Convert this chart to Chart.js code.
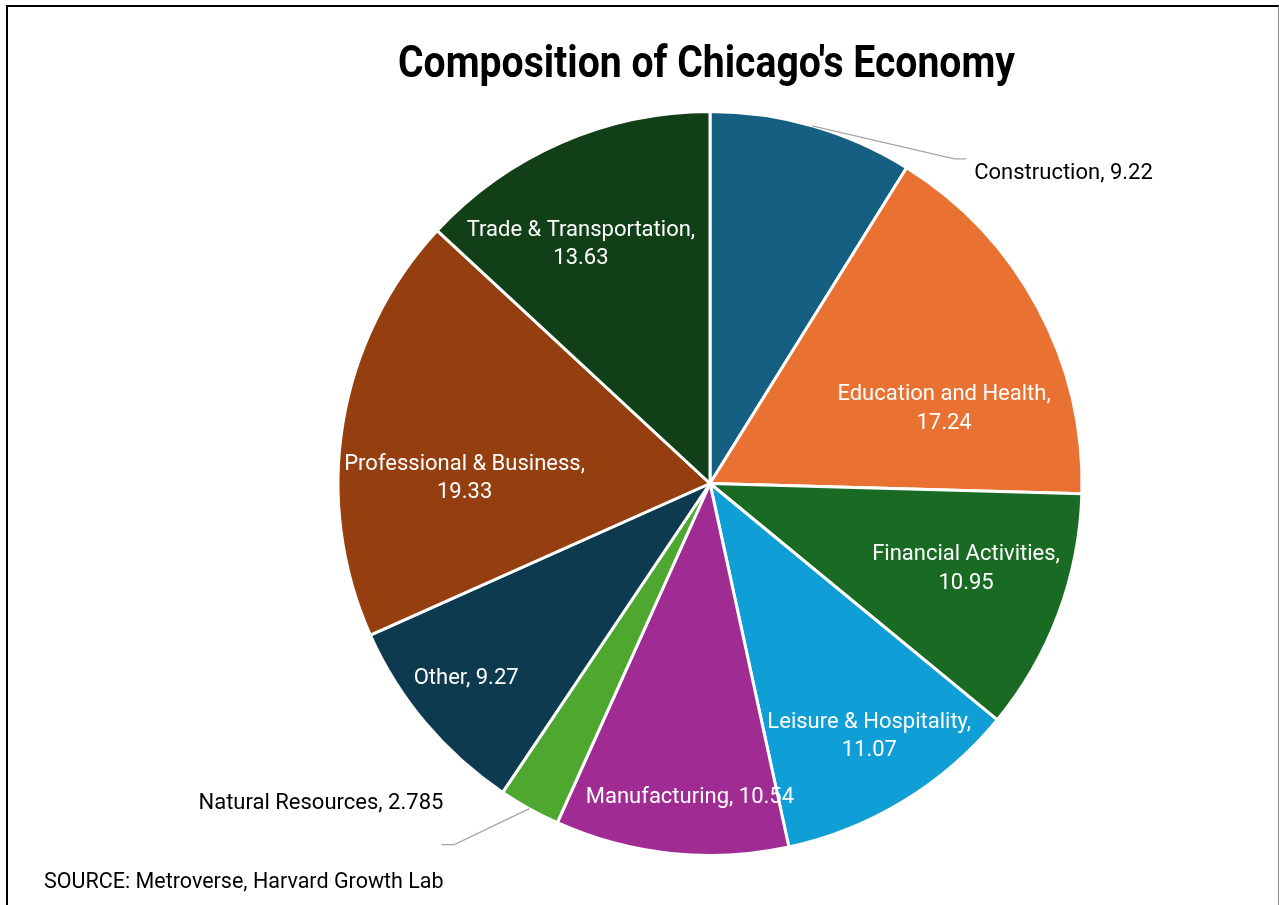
<!DOCTYPE html>
<html>
<head>
<meta charset="utf-8">
<title>Composition of Chicago's Economy</title>
<script src="https://cdn.jsdelivr.net/npm/chart.js@4.4.1/dist/chart.umd.min.js"></script>
<style>
    html, body { margin: 0; padding: 0; background: #ffffff; overflow: hidden; }
    #wrap { position: relative; width: 1279px; height: 905px; }
    #frame {
        position: absolute; left: 6px; top: 5px; width: 1270px; height: 920px;
        border-left: 2px solid #000; border-top: 2px solid #000; border-right: 1px solid #8a8a8a;
        pointer-events: none;
    }
    canvas { position: absolute; left: 0; top: 0; }
</style>
</head>
<body>
<div id="wrap">
    <canvas id="pieChart" width="1279" height="905"></canvas>
    <div id="frame"></div>
</div>
<script>
const sectors = [
    'Construction', 'Education and Health', 'Financial Activities', 'Leisure & Hospitality',
    'Manufacturing', 'Natural Resources', 'Other', 'Professional & Business', 'Trade & Transportation'
];
const shares = [9.22, 17.24, 10.95, 11.07, 10.54, 2.785, 9.27, 19.33, 13.63];
const sliceColors = [
    '#156082', '#E97132', '#196B24', '#0F9ED5', '#A02B93', '#4EA72E', '#0E3A50', '#953F10', '#113F17'
];

const chartTitle = "Composition of Chicago's Economy";
const sourceNote = 'SOURCE: Metroverse, Harvard Growth Lab';

// how each data label sits: inside labels use a radius fraction and angle nudge (deg),
// outside labels use a leader line from the arc edge
const labelLayout = [
    { outside: true, elbow: [142, 33], end: [154, 33], side: 'left', text: [162, 48] },
    { frac: 0.663, dAng: 9.9, lines: ['Education and Health,', '17.24'] },
    { frac: 0.723, dAng: -2.7, lines: ['Financial Activities,', '10.95'] },
    { frac: 0.797, dAng: -1.1, lines: ['Leisure & Hospitality,', '11.07'] },
    { frac: 0.838, dAng: -2.3, lines: ['Manufacturing, 10.54'] },
    { outside: true, elbow: [-75, 36], end: [-88, 36], side: 'right', text: [-86, -5] },
    { frac: 0.834, dAng: 1.9, lines: ['Other, 9.27'] },
    { frac: 0.66, dAng: -7.5, lines: ['Professional & Business,', '19.33'] },
    { frac: 0.737, dAng: -4.5, lines: ['Trade & Transportation,', '13.63'] }
];

const labelFont = '22px Roboto, "Noto Sans", sans-serif';

const pieLabels = {
    id: 'pieLabels',
    afterDatasetsDraw(chart) {
        const ctx = chart.ctx;
        const arcs = chart.getDatasetMeta(0).data;
        ctx.save();
        ctx.font = labelFont;
        arcs.forEach((arc, i) => {
            const lay = labelLayout[i];
            const mid = (arc.startAngle + arc.endAngle) / 2;
            const value = shares[i];
            if (lay.outside) {
                const ex = arc.x + Math.cos(mid) * arc.outerRadius;
                const ey = arc.y + Math.sin(mid) * arc.outerRadius;
                ctx.strokeStyle = '#a6a6a6';
                ctx.lineWidth = 1.3;
                ctx.beginPath();
                ctx.moveTo(ex, ey);
                ctx.lineTo(ex + lay.elbow[0], ey + lay.elbow[1]);
                ctx.lineTo(ex + lay.end[0], ey + lay.end[1]);
                ctx.stroke();
                ctx.fillStyle = '#000000';
                ctx.textAlign = lay.side;
                ctx.textBaseline = 'middle';
                ctx.fillText(sectors[i] + ', ' + value, ex + lay.text[0], ey + lay.text[1]);
            } else {
                const ang = mid + lay.dAng * Math.PI / 180;
                const r = arc.outerRadius * lay.frac;
                const cx = arc.x + Math.cos(ang) * r;
                const cy = arc.y + Math.sin(ang) * r + 3;
                const lh = 28.5;
                const y0 = cy - (lay.lines.length - 1) * lh / 2;
                ctx.fillStyle = '#ffffff';
                ctx.textAlign = 'center';
                ctx.textBaseline = 'middle';
                lay.lines.forEach((ln, k) => ctx.fillText(ln, cx, y0 + k * lh));
            }
        });
        ctx.restore();
    },
    afterDraw(chart) {
        const ctx = chart.ctx;
        ctx.save();
        ctx.fillStyle = '#000000';
        // title: tall bold face squeezed to the narrow width of the original
        ctx.font = 'bold 45px Roboto, sans-serif';
        ctx.textBaseline = 'alphabetic';
        ctx.textAlign = 'left';
        const w = ctx.measureText(chartTitle).width;
        const sx = 617 / w;
        ctx.translate(398, 77);
        ctx.scale(sx, 1);
        ctx.fillText(chartTitle, 0, 0);
        ctx.setTransform(1, 0, 0, 1, 0, 0);
        ctx.textBaseline = 'middle';
        ctx.font = '21.5px Roboto, "Noto Sans", sans-serif';
        ctx.fillText(sourceNote, 44, 883);
        ctx.restore();
    }
};

new Chart(document.getElementById('pieChart').getContext('2d'), {
    type: 'pie',
    data: {
        labels: sectors,
        datasets: [{
            data: shares,
            backgroundColor: sliceColors,
            borderColor: '#ffffff',
            borderWidth: 3
        }]
    },
    options: {
        responsive: false,
        animation: false,
        layout: { padding: { top: 110, bottom: 48, left: 200, right: 59 } },
        plugins: {
            legend: { display: false },
            tooltip: { enabled: false },
            title: { display: false }
        }
    },
    plugins: [pieLabels]
});
</script>
</body>
</html>
